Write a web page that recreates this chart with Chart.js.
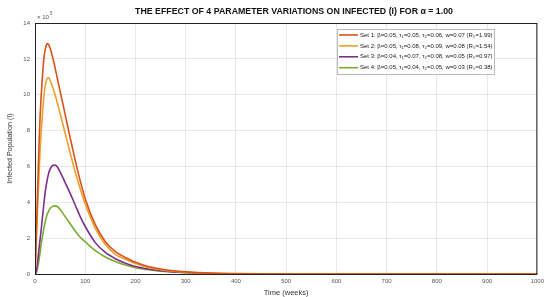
<!DOCTYPE html>
<html>
<head>
<meta charset="utf-8">
<script src="https://cdn.jsdelivr.net/npm/chart.js@4.4.0/dist/chart.umd.min.js"></script>
<style>
  html, body { margin: 0; padding: 0; background: #fff; }
  #wrap { width: 548px; height: 297px; position: relative; }
</style>
</head>
<body>
<div id="wrap"><canvas id="infected_chart"></canvas></div>
<script>
// time points (weeks)
const weeks = [0, 2, 4, 6, 8, 10, 12, 15, 18, 21, 24, 27, 30, 35, 40, 45, 50, 60, 70, 80, 90, 100,
  120, 140, 160, 180, 200, 225, 250, 275, 300, 350, 400, 500, 600, 700, 800, 900, 1000];

// infected population, in units of 10^5
const set1 = [0, 1.7, 3.6, 5.4, 7.2, 8.7, 9.8, 11.1, 12.1, 12.6, 12.85, 12.8, 12.6, 12.1, 11.5, 10.85, 10.2,
  8.9, 7.6, 6.35, 5.2, 4.2, 2.75, 1.8, 1.25, 0.92, 0.65, 0.42, 0.28, 0.18, 0.12, 0.05, 0.02, 0, 0, 0, 0, 0, 0];
const set2 = [0, 1.3, 2.8, 4.2, 5.5, 6.8, 7.8, 9.0, 10.0, 10.6, 10.9, 10.95, 10.8, 10.45, 10.0, 9.5, 8.95,
  7.85, 6.75, 5.7, 4.75, 3.9, 2.55, 1.65, 1.1, 0.82, 0.58, 0.37, 0.24, 0.15, 0.1, 0.04, 0.015, 0, 0, 0, 0, 0, 0];
const set3 = [0, 0.1, 0.4, 0.9, 1.4, 1.9, 2.4, 3.2, 4.0, 4.7, 5.2, 5.6, 5.85, 6.05, 6.08, 5.95, 5.7,
  5.1, 4.5, 3.85, 3.2, 2.65, 1.75, 1.2, 0.85, 0.6, 0.42, 0.28, 0.18, 0.12, 0.08, 0.03, 0.01, 0, 0, 0, 0, 0, 0];
const set4 = [0, 0.05, 0.2, 0.45, 0.8, 1.15, 1.6, 2.1, 2.6, 3.0, 3.3, 3.5, 3.65, 3.77, 3.8, 3.75, 3.6,
  3.2, 2.8, 2.4, 2.05, 1.8, 1.3, 0.95, 0.7, 0.5, 0.35, 0.24, 0.16, 0.11, 0.07, 0.03, 0.01, 0, 0, 0, 0, 0, 0];

const set_labels = [
  "Set 1: \u03b2=0.05, \u03c4\u2081=0.05, \u03c4\u2082=0.06, w=0.07 (R\u2080=1.99)",
  "Set 2: \u03b2=0.05, \u03c4\u2081=0.08, \u03c4\u2082=0.09, w=0.08 (R\u2080=1.54)",
  "Set 3: \u03b2=0.04, \u03c4\u2081=0.07, \u03c4\u2082=0.08, w=0.05 (R\u2080=0.97)",
  "Set 4: \u03b2=0.05, \u03c4\u2081=0.04, \u03c4\u2082=0.05, w=0.03 (R\u2080=0.38)",
];
const set_colors = ["#D95319", "#EDA12A", "#7E2F8E", "#77AC30"];
const x_ticks = [0, 100, 200, 300, 400, 500, 600, 700, 800, 900, 1000];
const y_ticks = [0, 2, 4, 6, 8, 10, 12, 14];

const all_sets = [set1, set2, set3, set4];
let infected_datasets = [];
all_sets.forEach((s, i) => {
  infected_datasets.push({
    label: set_labels[i],
    data: weeks.map((t, j) => ({ x: t, y: s[j] })),
    borderColor: set_colors[i],
    borderWidth: 1.6,
    pointRadius: 0,
    cubicInterpolationMode: "monotone",
  });
});

// title, x10^5 note, axis box and legend box
const extras = {
  id: "extras",
  afterDatasetsDraw(chart) {
    const ctx = chart.ctx;
    const a = chart.chartArea;
    ctx.save();
    ctx.strokeStyle = "#222";
    ctx.lineWidth = 1;
    ctx.strokeRect(a.left + 0.5, a.top + 0.5, a.right - a.left - 1, a.bottom - a.top);

    ctx.fillStyle = "#111";
    ctx.font = "bold 8.8px 'Liberation Sans', Arial, sans-serif";
    ctx.textAlign = "center";
    ctx.textBaseline = "middle";
    ctx.fillText("THE EFFECT OF 4 PARAMETER VARIATIONS ON INFECTED (I) FOR \u03b1 = 1.00", 294, 12);

    ctx.fillStyle = "#555";
    ctx.textAlign = "left";
    ctx.font = "6px 'Liberation Sans', Arial, sans-serif";
    ctx.fillText("\u00d7 10", a.left + 2, 17);
    ctx.font = "4.5px 'Liberation Sans', Arial, sans-serif";
    ctx.fillText("5", a.left + 15, 14);

    // legend
    const bx = 337, by = 29, bw = 157, bh = 45;
    ctx.fillStyle = "#fff";
    ctx.fillRect(bx, by, bw, bh);
    ctx.strokeStyle = "#aaa";
    ctx.lineWidth = 0.8;
    ctx.strokeRect(bx + 0.5, by + 0.5, bw, bh);
    ctx.font = "6px 'Liberation Sans', Arial, sans-serif";
    set_labels.forEach((lab, i) => {
      const yy = 35 + i * 10.9;
      ctx.strokeStyle = set_colors[i];
      ctx.lineWidth = 1.6;
      ctx.beginPath();
      ctx.moveTo(339, yy);
      ctx.lineTo(358, yy);
      ctx.stroke();
      ctx.fillStyle = "#222";
      ctx.fillText(lab, 360, yy);
    });
    ctx.restore();
  },
};

const infected_ctx = document.getElementById("infected_chart");
const infected_chart = new Chart(infected_ctx, {
  type: "line",
  data: { datasets: infected_datasets },
  options: {
    responsive: true,
    maintainAspectRatio: false,
    animation: false,
    layout: { padding: { top: 23, right: 7, left: 6, bottom: 0 } },
    plugins: { legend: { display: false }, tooltip: { enabled: false } },
    scales: {
      x: {
        type: "linear",
        min: 0,
        max: 1000,
        afterBuildTicks: (s) => { s.ticks = x_ticks.map((v) => ({ value: v })); },
        afterFit: (s) => { s.height = 23; },
        grid: { color: "#e2e2e2", drawTicks: false, lineWidth: 0.8 },
        border: { display: false },
        ticks: { color: "#555", font: { size: 6, family: "'Liberation Sans', Arial" }, padding: 4, maxRotation: 0,
          callback: (v) => String(v) },
        title: { display: true, text: "Time (weeks)", color: "#333", font: { size: 7.5, family: "'Liberation Sans', Arial" }, padding: { top: 0, bottom: 0 } },
      },
      y: {
        min: 0,
        max: 14,
        afterBuildTicks: (s) => { s.ticks = y_ticks.map((v) => ({ value: v })); },
        afterFit: (s) => { s.width = 29; },
        grid: { color: "#e2e2e2", drawTicks: false, lineWidth: 0.8 },
        border: { display: false },
        ticks: { color: "#555", font: { size: 6, family: "'Liberation Sans', Arial" }, padding: 5 },
        title: { display: true, text: "Infected Population (I)", color: "#333", font: { size: 7.2, family: "'Liberation Sans', Arial" }, padding: { top: 0, bottom: 0 } },
      },
    },
  },
  plugins: [extras],
});
</script>
</body>
</html>
